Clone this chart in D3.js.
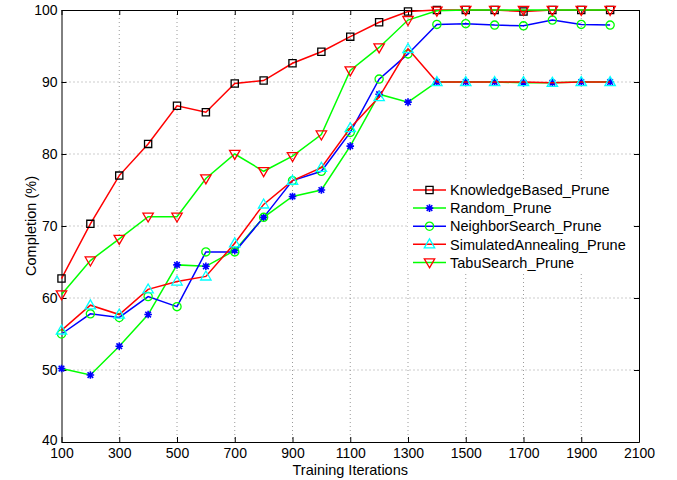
<!DOCTYPE html>
<html>
<head>
<meta charset="utf-8">
<script src="https://cdn.jsdelivr.net/npm/d3@7"></script>
<style>
    body { margin: 0; background: #fff; }
    text { font-family: "Liberation Sans", Arial, Helvetica, sans-serif; fill: #000; }
</style>
</head>
<body>
<script>
// data
const iterations = [100, 200, 300, 400, 500, 600, 700, 800, 900, 1000,
    1100, 1200, 1300, 1400, 1500, 1600, 1700, 1800, 1900, 2000];

const knowledgeBased = [62.7, 70.3, 77.0, 81.4, 86.7, 85.8, 89.8, 90.2, 92.6, 94.2,
    96.3, 98.3, 99.8, 100, 100, 100, 99.8, 100, 100, 100];
const randomPrune = [50.2, 49.3, 53.3, 57.7, 64.6, 64.4, 66.6, 71.2, 74.1, 75.0,
    81.1, 88.3, 87.2, 90.0, 90.0, 90.0, 89.9, 89.9, 90.0, 90.0];
const neighborSearch = [55.0, 57.8, 57.3, 60.2, 58.8, 66.4, 66.4, 71.2, 76.3, 77.6,
    83.0, 90.4, 93.9, 98.0, 98.1, 97.9, 97.8, 98.6, 98.0, 97.9];
const simulatedAnnealing = [55.5, 59.0, 57.7, 61.2, 62.3, 63.0, 67.6, 73.0, 76.3, 78.1,
    83.6, 87.9, 94.6, 90.0, 90.0, 90.0, 90.0, 89.9, 90.0, 90.0];
const tabuSearch = [60.5, 65.2, 68.2, 71.3, 71.3, 76.6, 80.0, 77.6, 79.7, 82.7,
    91.6, 94.8, 98.6, 99.9, 100, 100, 100, 100, 100, 100];

const seriesNames = ["KnowledgeBased_Prune", "Random_Prune", "NeighborSearch_Prune",
    "SimulatedAnnealing_Prune", "TabuSearch_Prune"];
const seriesValues = [knowledgeBased, randomPrune, neighborSearch, simulatedAnnealing, tabuSearch];

const xTicks = [100, 300, 500, 700, 900, 1100, 1300, 1500, 1700, 1900, 2100];
const yTicks = [40, 50, 60, 70, 80, 90, 100];

// line colour, marker shape, marker colour (matlab style)
const styles = [
    {line: "#ff0000", marker: "square", mcolor: "#000000"},
    {line: "#00ff00", marker: "star", mcolor: "#0000ff"},
    {line: "#0000ff", marker: "circle", mcolor: "#00ff00"},
    {line: "#ff0000", marker: "up", mcolor: "#00ffff"},
    {line: "#00ff00", marker: "down", mcolor: "#ff0000"}
];

const W = 677, H = 480;
const margin = {top: 10, right: 38, bottom: 38, left: 61.5};
const width = W - margin.left - margin.right,
    height = H - margin.top - margin.bottom;

const svg = d3.select("body").append("svg")
    .attr("width", W)
    .attr("height", H);

svg.append("rect").attr("width", W).attr("height", H).attr("fill", "#fff");

const g = svg.append("g")
    .attr("transform", "translate(" + margin.left + "," + margin.top + ")");

const x = d3.scaleLinear().domain([100, 2100]).range([0, width]);
const y = d3.scaleLinear().domain([40, 100]).range([height, 0]);

// dotted grid
g.append("g").selectAll("line")
    .data(xTicks.slice(1, -1))
    .enter().append("line")
    .attr("x1", d => x(d)).attr("x2", d => x(d))
    .attr("y1", 0).attr("y2", height)
    .attr("stroke", "#9a9a9a").attr("stroke-dasharray", "1,3");

g.append("g").selectAll("line")
    .data(yTicks.slice(1, -1))
    .enter().append("line")
    .attr("y1", d => y(d)).attr("y2", d => y(d))
    .attr("x1", 0).attr("x2", width)
    .attr("stroke", "#9a9a9a").attr("stroke-dasharray", "1,3");

// axes, ticks pointing inward on all four sides
const xAxis = g.append("g")
    .attr("transform", "translate(0," + height + ")")
    .call(d3.axisBottom(x).tickValues(xTicks).tickFormat(d3.format("d"))
        .tickSizeInner(-5).tickSizeOuter(0).tickPadding(6));
const yAxis = g.append("g")
    .call(d3.axisLeft(y).tickValues(yTicks).tickSizeInner(-5).tickSizeOuter(0).tickPadding(4));
const topAxis = g.append("g")
    .call(d3.axisTop(x).tickValues(xTicks).tickFormat("").tickSizeInner(-5).tickSizeOuter(0));
const rightAxis = g.append("g")
    .attr("transform", "translate(" + width + ",0)")
    .call(d3.axisRight(y).tickValues(yTicks).tickFormat("").tickSizeInner(-5).tickSizeOuter(0));

[xAxis, yAxis, topAxis, rightAxis].forEach(a => {
    a.select(".domain").attr("stroke", "#000").attr("stroke-width", 1);
    a.selectAll(".tick line").attr("stroke", "#000");
    a.selectAll("text").attr("font-size", "14px").attr("font-family", null).attr("fill", "#000");
});

// lowest y label sits right on top of the first x label, lift it a hair
yAxis.selectAll(".tick text").filter(d => d === 40).attr("dy", "0.2em");

// marker paths
function markerPath(type) {
    if (type === "square") return "M-3.6,-3.6H3.6V3.6H-3.6Z";
    if (type === "circle") return "M4.1,0A4.1,4.1 0 1,1 -4.1,0A4.1,4.1 0 1,1 4.1,0Z";
    if (type === "up") return "M0,-5.4L5.2,3.6L-5.2,3.6Z";
    if (type === "down") return "M0,5.4L5.2,-3.6L-5.2,-3.6Z";
    // asterisk
    return "M-3.8,0H3.8M0,-3.8V3.8M-2.8,-2.8L2.8,2.8M-2.8,2.8L2.8,-2.8";
}

const line = d3.line()
    .x(d => x(d[0]))
    .y(d => y(d[1]));

seriesValues.forEach((vals, i) => {
    const pts = iterations.map((it, j) => [it, vals[j]]);
    const st = styles[i];
    const s = g.append("g");
    s.append("path")
        .datum(pts)
        .attr("d", line)
        .attr("fill", "none")
        .attr("stroke", st.line)
        .attr("stroke-width", 1.5);
    s.selectAll(".m")
        .data(pts)
        .enter().append("path")
        .attr("transform", d => "translate(" + x(d[0]) + "," + y(d[1]) + ")")
        .attr("d", markerPath(st.marker))
        .attr("fill", "none")
        .attr("stroke", st.mcolor)
        .attr("stroke-width", st.marker === "star" ? 1.6 : 1.3);
});

// axis labels
svg.append("text")
    .attr("x", margin.left + width / 2)
    .attr("y", 475)
    .attr("text-anchor", "middle")
    .attr("font-size", "14.5px")
    .text("Training Iterations");

svg.append("text")
    .attr("transform", "translate(36," + (margin.top + height / 2) + ") rotate(-90)")
    .attr("text-anchor", "middle")
    .attr("font-size", "14.5px")
    .text("Completion (%)");

// legend (white background, no border)
const legend = svg.append("g");
legend.append("rect")
    .attr("x", 408).attr("y", 179)
    .attr("width", 224).attr("height", 92)
    .attr("fill", "#fff");

seriesNames.forEach((name, i) => {
    const ly = 190 + i * 18.1;
    const st = styles[i];
    legend.append("line")
        .attr("x1", 413).attr("x2", 446)
        .attr("y1", ly).attr("y2", ly)
        .attr("stroke", st.line).attr("stroke-width", 1.5);
    legend.append("path")
        .attr("transform", "translate(429.5," + ly + ")")
        .attr("d", markerPath(st.marker))
        .attr("fill", "none")
        .attr("stroke", st.mcolor)
        .attr("stroke-width", st.marker === "star" ? 1.6 : 1.3);
    legend.append("text")
        .attr("x", 450).attr("y", ly)
        .attr("dy", "0.36em")
        .attr("font-size", "14.5px")
        .text(name);
});
</script>
</body>
</html>
